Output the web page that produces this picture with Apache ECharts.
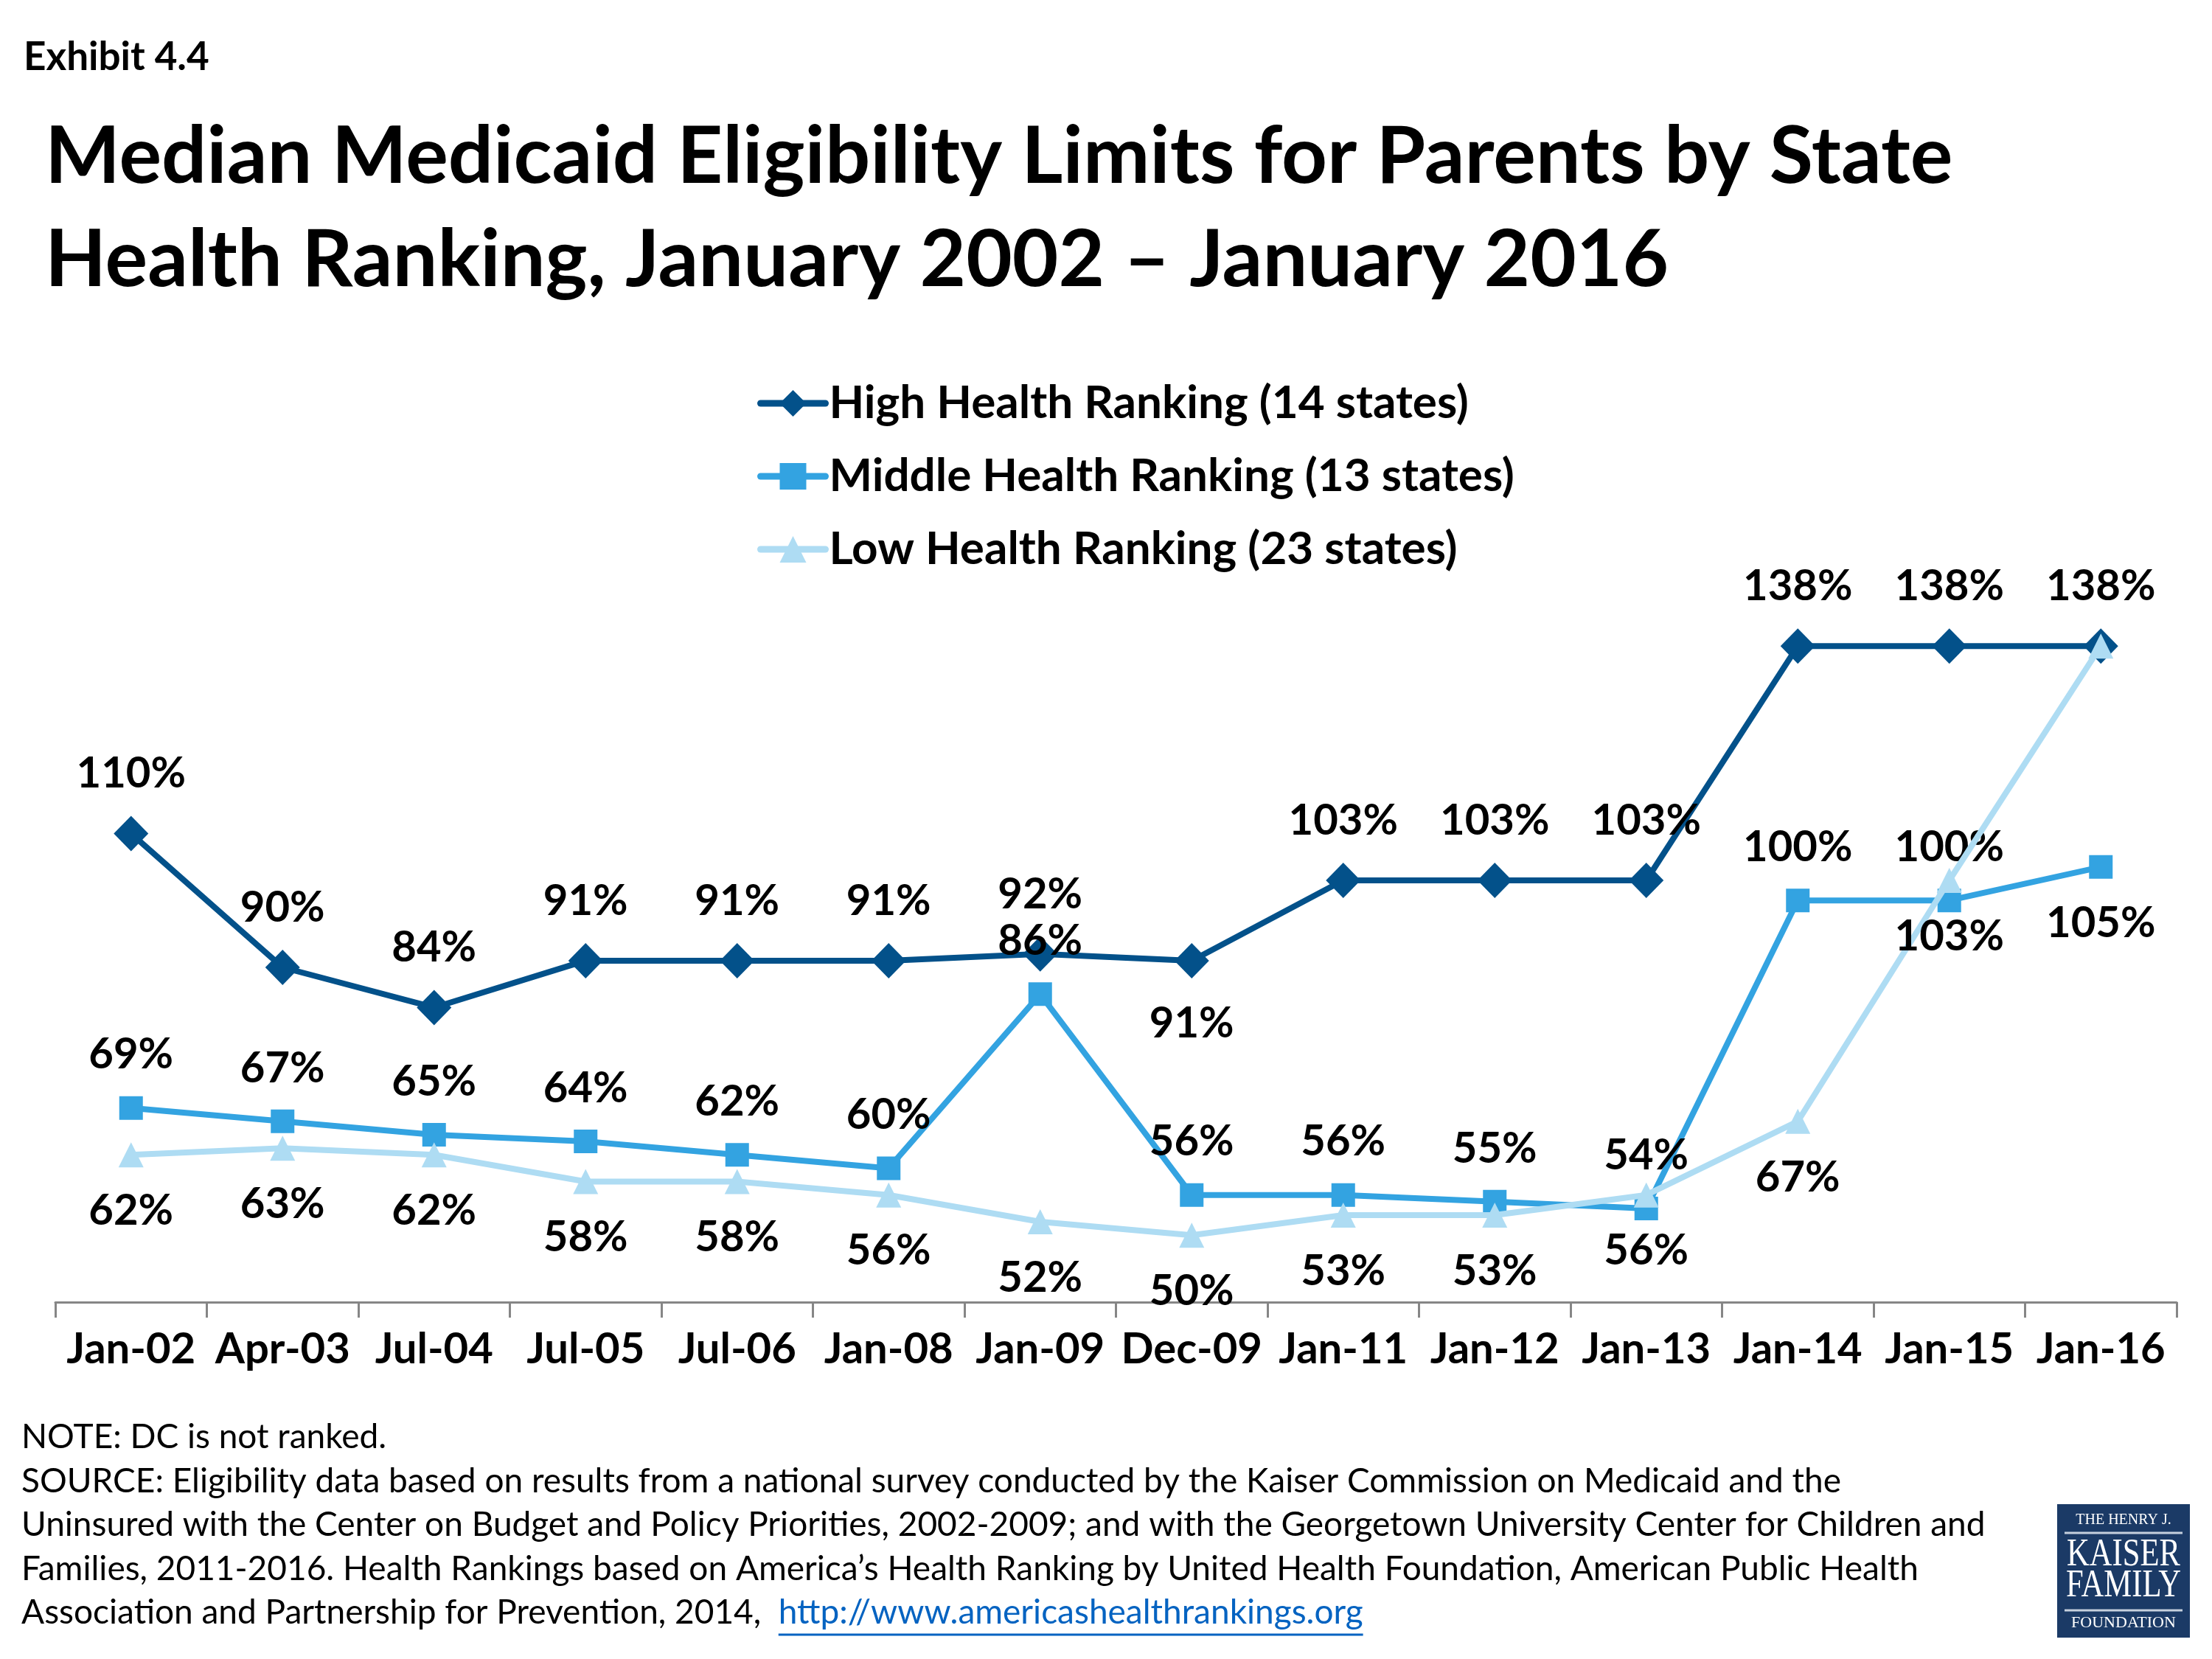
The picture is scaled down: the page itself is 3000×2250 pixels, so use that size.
<!DOCTYPE html>
<html>
<head>
<meta charset="utf-8">
<script src="https://cdn.jsdelivr.net/npm/echarts@6/dist/echarts.min.js"></script>
<style>
html,body{margin:0;padding:0;background:#fff;}
#chart{width:3000px;height:2250px;}
</style>
</head>
<body>
<div id="chart"></div>
<script>
// ---- data ----
const categories = ['Jan-02','Apr-03','Jul-04','Jul-05','Jul-06','Jan-08','Jan-09','Dec-09','Jan-11','Jan-12','Jan-13','Jan-14','Jan-15','Jan-16'];
const highValues   = [110, 90, 84, 91, 91, 91, 92, 91, 103, 103, 103, 138, 138, 138];
const middleValues = [69, 67, 65, 64, 62, 60, 86, 56, 56, 55, 54, 100, 100, 105];
const lowValues    = [62, 63, 62, 58, 58, 56, 52, 50, 53, 53, 56, 67, 103, 138];
const seriesNames = ['High Health Ranking (14 states)','Middle Health Ranking (13 states)','Low Health Ranking (23 states)'];
const highLabelsFlipped = ['Dec-09'];
const middleLabelsFlipped = ['Jan-16'];
const lowLabelsHidden = ['Jan-16'];

const FONT = 'Lato, "Open Sans", sans-serif';
const colors = ['#03518A', '#33A3E1', '#AEDCF3'];

function buildData(values, flippedOffset, flipped, hidden) {
  return values.map((v, i) => {
    const cat = categories[i];
    const item = { value: v };
    if (hidden && hidden.indexOf(cat) >= 0) {
      item.label = { show: false };
    } else if (flipped && flipped.indexOf(cat) >= 0) {
      item.label = { offset: [0, flippedOffset] };
    }
    return item;
  });
}

const labelBase = {
  show: true,
  position: 'inside',
  formatter: '{c}%',
  color: '#000',
  fontFamily: FONT,
  fontWeight: 'bold',
  fontSize: 58,
  lineHeight: 58
};

const chart = echarts.init(document.getElementById('chart'), null, {renderer: 'canvas'});

const FOOT_FONT = '46px Lato';
// measure link for underline
const mctx = document.createElement('canvas').getContext('2d');
mctx.font = FOOT_FONT;
const prefixText = 'Association and Partnership for Prevention, 2014,  ';
const linkText = 'http://www.americashealthrankings.org';
const prefixW = mctx.measureText(prefixText).width;
const linkW = mctx.measureText(linkText).width;

const footLeft = 29;
const footLines = [
  'NOTE: DC is not ranked.',
  'SOURCE: Eligibility data based on results from a national survey conducted by the Kaiser Commission on Medicaid and the',
  'Uninsured with the Center on Budget and Policy Priorities, 2002-2009; and with the Georgetown University Center for Children and',
  'Families, 2011-2016. Health Rankings based on America\u2019s Health Ranking by United Health Foundation, American Public Health'
];
const footY = [1954, 2014, 2073, 2133, 2192];

const graphics = [];
footLines.forEach((t, i) => {
  graphics.push({
    type: 'text', left: footLeft, top: footY[i] - 28,
    style: { text: t, font: FOOT_FONT, fill: '#000' }
  });
});
graphics.push({
  type: 'text', left: footLeft, top: footY[4] - 28,
  style: {
    text: '{a|' + prefixText + '}{b|' + linkText + '}',
    font: FOOT_FONT,
    rich: {
      a: { font: FOOT_FONT, fill: '#000', color: '#000' },
      b: { font: FOOT_FONT, fill: '#0563C1', color: '#0563C1' }
    }
  }
});
graphics.push({
  type: 'line', silent: true,
  shape: { x1: footLeft + prefixW, y1: footY[4] + 25, x2: footLeft + prefixW + linkW, y2: footY[4] + 25 },
  style: { stroke: '#0563C1', lineWidth: 3 }
});

// logo
const LX = 2790, LY = 2040, LW = 180, LH = 181;
graphics.push({
  type: 'group', left: LX, top: LY,
  children: [
    { type: 'rect', shape: { x: 0, y: 0, width: LW, height: LH }, style: { fill: '#1B3A66' } },
    { type: 'text', x: LW / 2, y: 22, style: { text: 'THE HENRY J.', font: '20px "Liberation Serif"', fill: '#fff', align: 'center', verticalAlign: 'middle' } },
    { type: 'line', shape: { x1: 10, y1: 39, x2: LW - 10, y2: 39 }, style: { stroke: '#C6D0DD', lineWidth: 3 } },
    { type: 'text', x: LW / 2, y: 69, scaleX: 0.82, scaleY: 1, style: { text: 'KAISER', font: '52px "Liberation Serif"', fill: '#fff', align: 'center', verticalAlign: 'middle' } },
    { type: 'text', x: LW / 2, y: 111, scaleX: 0.82, scaleY: 1, style: { text: 'FAMILY', font: '52px "Liberation Serif"', fill: '#fff', align: 'center', verticalAlign: 'middle' } },
    { type: 'line', shape: { x1: 10, y1: 144, x2: LW - 10, y2: 144 }, style: { stroke: '#C6D0DD', lineWidth: 3 } },
    { type: 'text', x: LW / 2, y: 161, style: { text: 'FOUNDATION', font: '22px "Liberation Serif"', fill: '#fff', align: 'center', verticalAlign: 'middle' } }
  ]
});

const legendBase = {
  orient: 'horizontal', left: 1027, padding: 0,
  itemWidth: 88, itemHeight: 45, itemGap: 0,
  textStyle: { color: '#000', fontFamily: FONT, fontWeight: 'bold', fontSize: 62, lineHeight: 62 },
  lineStyle: { width: 9, cap: 'round' }
};

const option = {
  animation: false,
  backgroundColor: '#fff',
  title: [
    { text: 'Exhibit 4.4', left: 32, top: 51, padding: 0,
      textStyle: { fontFamily: FONT, fontWeight: 'bold', fontSize: 53, lineHeight: 53, color: '#000' } },
    { text: 'Median Medicaid Eligibility Limits for Parents by State\nHealth Ranking, January 2002 \u2013 January 2016', left: 61, top: 143, padding: 0,
      textStyle: { fontFamily: FONT, fontWeight: 'bold', fontSize: 108, lineHeight: 140, color: '#000' } }
  ],
  legend: [
    Object.assign({}, legendBase, { top: 516, data: [seriesNames[0]] }),
    Object.assign({}, legendBase, { top: 615, data: [seriesNames[1]] }),
    Object.assign({}, legendBase, { top: 714, data: [seriesNames[2]] })
  ],
  grid: { left: 75, right: 48, top: 858, bottom: 484, containLabel: false },
  xAxis: {
    type: 'category', data: categories, boundaryGap: true,
    axisLine: { show: true, lineStyle: { color: '#868686', width: 3 } },
    axisTick: { show: true, alignWithLabel: false, length: 21, lineStyle: { color: '#868686', width: 3 } },
    axisLabel: { interval: 0, margin: 35, color: '#000', fontFamily: FONT, fontWeight: 'bold', fontSize: 58, lineHeight: 58 },
    splitLine: { show: false }
  },
  yAxis: { type: 'value', min: 40, max: 140, show: false },
  series: [
    {
      name: seriesNames[0], type: 'line', data: buildData(highValues, 85, highLabelsFlipped, null),
      symbol: 'diamond', symbolSize: [47, 48], showAllSymbol: true,
      itemStyle: { color: colors[0] }, lineStyle: { color: colors[0], width: 8 },
      label: Object.assign({}, labelBase, { offset: [0, -81] }), z: 2
    },
    {
      name: seriesNames[1], type: 'line', data: buildData(middleValues, 76, middleLabelsFlipped, null),
      symbol: 'rect', symbolSize: 32, showAllSymbol: true,
      itemStyle: { color: colors[1] }, lineStyle: { color: colors[1], width: 8 },
      label: Object.assign({}, labelBase, { offset: [0, -72] }), z: 3
    },
    {
      name: seriesNames[2], type: 'line', data: buildData(lowValues, 76, null, lowLabelsHidden),
      symbol: 'triangle', symbolSize: 34, showAllSymbol: true,
      itemStyle: { color: colors[2] }, lineStyle: { color: colors[2], width: 8 },
      label: Object.assign({}, labelBase, { offset: [0, 76] }), z: 4
    }
  ],
  graphic: graphics
};
chart.setOption(option);
</script>
</body>
</html>
